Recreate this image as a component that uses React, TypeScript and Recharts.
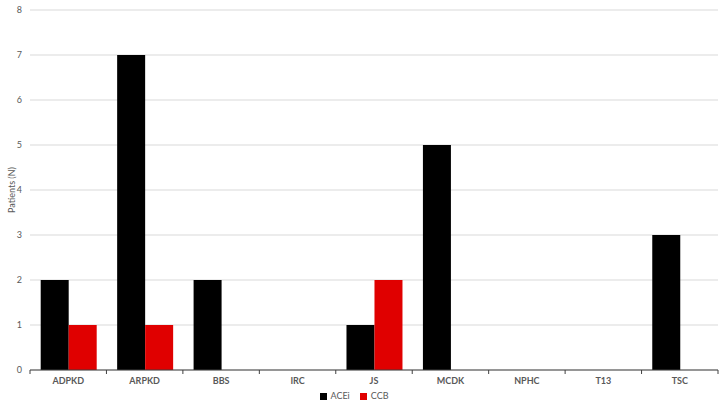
import React from 'react';
import { BarChart, Bar, XAxis, YAxis, CartesianGrid, Legend } from 'recharts';

// Categories and values
const categories = ['ADPKD', 'ARPKD', 'BBS', 'IRC', 'JS', 'MCDK', 'NPHC', 'T13', 'TSC'];
const aceiValues = [2, 7, 2, 0, 1, 5, 0, 0, 3];
const ccbValues = [1, 1, 0, 0, 2, 0, 0, 0, 0];
const yTicks = [0, 1, 2, 3, 4, 5, 6, 7, 8];

const data = categories.map((name, i) => ({
  name,
  ACEi: aceiValues[i],
  CCB: ccbValues[i],
}));

const FONT = 'Lato, "Open Sans", sans-serif';

// Excel-style tick: label centered, tick marks at category boundaries
function CategoryTick(props: any) {
  const { x, y, payload, index } = props;
  const half = payload.offset || 0;
  const last = index === categories.length - 1;
  return (
    <g>
      <line x1={x - half} y1={y - 8} x2={x - half} y2={y - 4} stroke="#404040" strokeWidth={1} />
      {last && <line x1={x + half} y1={y - 8} x2={x + half} y2={y - 4} stroke="#404040" strokeWidth={1} />}
      <text x={x} y={y + 6} textAnchor="middle" fontSize={9} fontWeight={700} fill="#595959" fontFamily={FONT}>
        {payload.value}
      </text>
    </g>
  );
}

export default function App() {
  return (
    <div style={{ position: 'absolute', left: 0, top: 0, background: '#fff' }}>
      <BarChart
        width={727}
        height={408}
        data={data}
        margin={{ top: 10, right: 9, left: 0, bottom: 0 }}
        barCategoryGap="14%"
        barGap={0}
      >
        <CartesianGrid vertical={false} stroke="#d9d9d9" />
        <XAxis
          dataKey="name"
          axisLine={{ stroke: '#404040' }}
          tickLine={false}
          tick={<CategoryTick />}
          height={20}
          interval={0}
        />
        <YAxis
          domain={[0, 8]}
          ticks={yTicks}
          width={30}
          axisLine={false}
          tickLine={false}
          tick={{ fontSize: 9, fill: '#595959', fontFamily: FONT }}
          label={{
            value: 'Patients (N)',
            angle: -90,
            position: 'insideLeft',
            offset: 12,
            style: { fontSize: 9, fill: '#595959', fontFamily: FONT, textAnchor: 'middle' },
          }}
        />
        <Legend
          verticalAlign="bottom"
          align="center"
          iconType="square"
          iconSize={7}
          height={18}
          wrapperStyle={{ fontSize: 9, fontFamily: FONT, color: '#595959' }}
          formatter={(value: string) => <span style={{ color: '#595959' }}>{value}</span>}
        />
        <Bar dataKey="ACEi" fill="#000000" isAnimationActive={false} />
        <Bar dataKey="CCB" fill="#e00000" isAnimationActive={false} />
      </BarChart>
    </div>
  );
}
